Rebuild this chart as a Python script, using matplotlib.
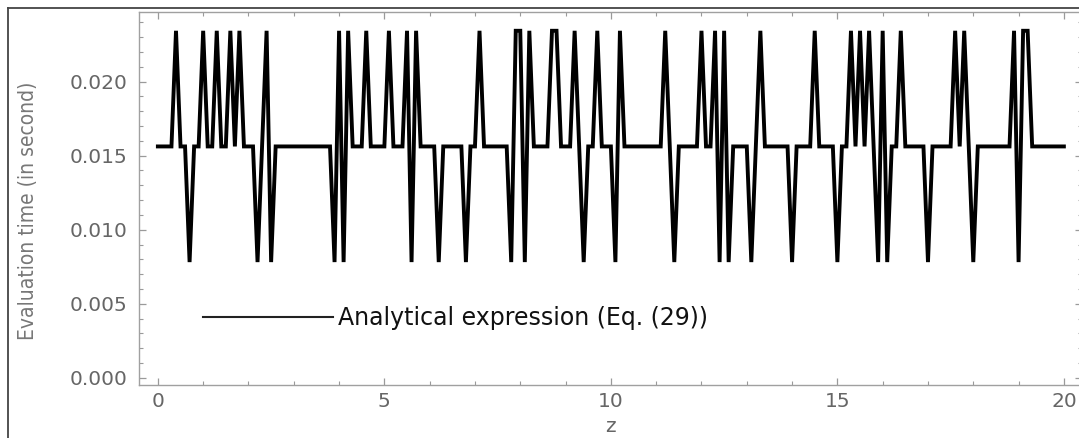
import numpy as np
import matplotlib
matplotlib.use("Agg")
import matplotlib.pyplot as plt
from matplotlib.lines import Line2D
from matplotlib import font_manager
from matplotlib.ticker import MultipleLocator

# ---- data ----
L = 0.0078125
M = 0.015625
H = 0.0234375

z = np.round(np.arange(201) * 0.1, 1)   # sample points 0.0 ... 20.0

eval_time = [
    M, M, M, M, H, M, M, L, M, M,   # 0.0 - 0.9
    H, M, M, H, M, M, H, M, H, M,   # 1.0 - 1.9
    M, M, L, M, H, L, M, M, M, M,   # 2.0 - 2.9
    M, M, M, M, M, M, M, M, M, L,   # 3.0 - 3.9
    H, L, H, M, M, M, H, M, M, M,   # 4.0 - 4.9
    M, H, M, M, M, H, L, H, M, M,   # 5.0 - 5.9
    M, M, L, M, M, M, M, M, L, M,   # 6.0 - 6.9
    M, H, M, M, M, M, M, M, L, H,   # 7.0 - 7.9
    H, L, H, M, M, M, M, H, H, M,   # 8.0 - 8.9
    M, M, H, M, L, M, M, H, M, M,   # 9.0 - 9.9
    M, L, H, M, M, M, M, M, M, M,   # 10.0 - 10.9
    M, M, H, M, L, M, M, M, M, M,   # 11.0 - 11.9
    H, M, M, H, L, H, L, M, M, M,   # 12.0 - 12.9
    M, L, M, H, M, M, M, M, M, M,   # 13.0 - 13.9
    L, M, M, M, M, H, M, M, M, M,   # 14.0 - 14.9
    L, M, M, H, M, H, M, H, M, L,   # 15.0 - 15.9
    H, L, M, M, H, M, M, M, M, M,   # 16.0 - 16.9
    L, M, M, M, M, M, H, M, H, M,   # 17.0 - 17.9
    L, M, M, M, M, M, M, M, M, H,   # 18.0 - 18.9
    L, H, H, M, M, M, M, M, M, M,   # 19.0 - 19.9
    M,                              # 20.0
]

x_ticks = [0, 5, 10, 15, 20]
y_ticks = [0.000, 0.005, 0.010, 0.015, 0.020]
y_tick_labels = ["0.000", "0.005", "0.010", "0.015", "0.020"]
legend_label = "Analytical expression (Eq. (29))"
y_label = "Evaluation time (in second)"
x_label = "z"

# ---- figure ----
W, Hpx = 1079, 438
fig = plt.figure(figsize=(W / 100, Hpx / 100), dpi=100)
fig.patch.set_facecolor("white")

left_px, right_px, top_px, bottom_px = 139.3, 1082.0, 11.5, 385.0
ax = fig.add_axes([left_px / W, 1 - bottom_px / Hpx,
                   (right_px - left_px) / W, (bottom_px - top_px) / Hpx])

ax.plot(z, eval_time, color="black", lw=2.8, solid_joinstyle="miter")

ax.set_xlim(-0.41, 20.4)
ax.set_ylim(-0.00049, 0.02474)

tick_col = "#9a9a9a"
lab_col = "#666666"
for sp in ax.spines.values():
    sp.set_color("#a0a0a0")
    sp.set_linewidth(1.0)

ax.set_xticks(x_ticks)
ax.set_xticklabels([str(t) for t in x_ticks])
ax.xaxis.set_minor_locator(MultipleLocator(1))
ax.set_yticks(y_ticks)
ax.set_yticklabels(y_tick_labels)
ax.yaxis.set_minor_locator(MultipleLocator(0.001))

ax.tick_params(which="both", direction="in", top=True, right=True,
               color=tick_col, labelcolor=lab_col, labelsize=14.5)
ax.tick_params(which="major", length=5, width=0.9)
ax.tick_params(which="minor", length=3, width=0.8)
ax.tick_params(axis="x", which="major", pad=5)
ax.tick_params(axis="y", which="major", pad=8.5)

# y label (narrow font)
names = {f.name for f in font_manager.fontManager.ttflist}
if "Liberation Sans Narrow" in names:
    yl_kw = dict(family="Liberation Sans Narrow", size=18)
else:
    yl_kw = dict(family="DejaVu Sans", size=15, stretch="condensed")
fig.text(28 / W, 1 - 211 / Hpx, y_label, rotation=90, ha="center",
         va="center", color="#777777", **yl_kw)

fig.text(610 / W, 1 - 427 / Hpx, x_label, ha="center", va="center",
         color=lab_col, fontsize=14.5)

# legend
handle = Line2D([], [], color="#222222", lw=1.5)
leg = ax.legend(handles=[handle], labels=[legend_label],
                loc="center left",
                bbox_to_anchor=(202.7 / W, 1 - 318.3 / Hpx),
                bbox_transform=fig.transFigure,
                frameon=False, borderpad=0, borderaxespad=0,
                handlelength=5.5, handletextpad=0.22,
                prop={"size": 17})
for t in leg.get_texts():
    t.set_color("#111111")

# outer border of the screenshot
fig.add_artist(Line2D([8 / W, 8 / W], [0, 1 - 8 / Hpx],
                      transform=fig.transFigure, color="#444444", lw=1.3))
fig.add_artist(Line2D([8 / W, 1], [1 - 8 / Hpx, 1 - 8 / Hpx],
                      transform=fig.transFigure, color="#444444", lw=1.3))

fig.savefig("out.png", dpi=100, facecolor="white")
